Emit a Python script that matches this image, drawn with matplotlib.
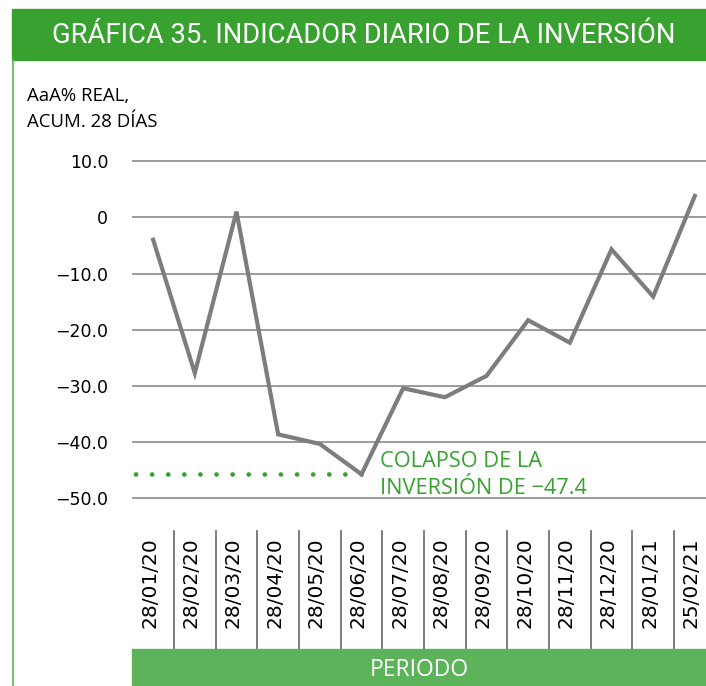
import matplotlib
matplotlib.use("Agg")
import matplotlib.pyplot as plt
import matplotlib.transforms as mtransforms
from matplotlib.patches import Rectangle
from matplotlib.lines import Line2D

# datos
fechas = ["28/01/20", "28/02/20", "28/03/20", "28/04/20", "28/05/20", "28/06/20",
          "28/07/20", "28/08/20", "28/09/20", "28/10/20", "28/11/20", "28/12/20",
          "28/01/21", "25/02/21"]
valores = [-4.0, -27.7, 1.0, -38.6, -40.3, -45.7, -30.4, -32.0, -28.2, -18.3,
           -22.3, -5.7, -14.1, 3.8]
yticks = [10, 0, -10, -20, -30, -40, -50]
ytick_labels = ["10.0", "0", "\u221210.0", "\u221220.0", "\u221230.0", "\u221240.0", "\u221250.0"]

titulo = "GRÁFICA 35. INDICADOR DIARIO DE LA INVERSIÓN"
subtitulo = ["AaA% REAL,", "ACUM. 28 DÍAS"]
nota = ["COLAPSO DE LA", "INVERSIÓN DE \u221247.4"]

VERDE = "#38a12f"
VERDE_CLARO = "#5cb35a"
GRIS = "#7d7d7d"

W, H = 706, 686
fig = plt.figure(figsize=(W / 100, H / 100), dpi=100)


def fx(x):
    return x / W


def fy(y):
    return 1 - y / H


# barra de titulo y borde izquierdo
fig.patches.append(Rectangle((fx(12), fy(59.5)), fx(706 - 12), 50.2 / H,
                             transform=fig.transFigure, color=VERDE, zorder=0))
fig.lines.append(Line2D([fx(12.5), fx(12.5)], [fy(59), fy(686)],
                        transform=fig.transFigure, color=VERDE_CLARO, lw=1.2))
t = fig.text(fx(364), fy(42.7), titulo, color="white", ha="center", va="baseline",
             fontsize=18, family=["Roboto", "DejaVu Sans"])
fig.canvas.draw()
ancho = t.get_window_extent().width
t.set_fontsize(18 * 624 / ancho)

for linea, base in zip(subtitulo, [101, 126.7]):
    fig.text(fx(26.7), fy(base), linea, color="black", ha="left", va="baseline",
             fontsize=13.4, family=["Open Sans", "DejaVu Sans"])

# ejes
x0, x1 = 132.3, 132.3 + 14 * 41.67
ymin, ymax = -52, 12
ppu = 5.624
y_top = 329.76 - ppu * (ymax + 20)
y_bot = 329.76 - ppu * (ymin + 20)
ax = fig.add_axes([fx(x0), fy(y_bot), (x1 - x0) / W, (y_bot - y_top) / H])
ax.set_xlim(-0.5, 13.5)
ax.set_ylim(ymin, ymax)
for s in ax.spines.values():
    s.set_visible(False)
ax.set_facecolor("none")

ax.set_yticks(yticks)
ax.set_yticklabels(ytick_labels, fontsize=12.5, family="DejaVu Sans")
ax.yaxis.grid(True, color="#8a8a8a", lw=1.2)
ax.set_axisbelow(True)

xs = list(range(len(fechas)))
ax.set_xticks(xs)
ax.set_xticklabels(fechas, rotation=90, fontsize=14.5, family="DejaVu Sans")
ax.tick_params(axis="both", length=0)
ax.tick_params(axis="y", pad=17.3)
ax.tick_params(axis="x", pad=20)
offset = mtransforms.ScaledTranslation(-3.5 / 100, 0, fig.dpi_scale_trans)
for lab in ax.get_xticklabels():
    lab.set_transform(lab.get_transform() + offset)

ax.plot(xs, valores, color=GRIS, lw=3.0, solid_joinstyle="miter", zorder=3)

# linea punteada del minimo
i_min = valores.index(min(valores))
ax.plot([i_min, -0.74], [valores[i_min]] * 2, color=VERDE, lw=3.4,
        linestyle=(0, (0.01, 3.4)), dash_capstyle="round", clip_on=False, zorder=2)

for linea, base in zip(nota, [467.3, 494]):
    fig.text(fx(380), fy(base), linea, color=VERDE, ha="left", va="baseline",
             fontsize=15.7, family=["Open Sans", "DejaVu Sans"])

# separadores de categorias
trans = mtransforms.blended_transform_factory(ax.transData, ax.transAxes)
ya = (y_bot - 531) / (y_bot - y_top)
yb = (y_bot - 649) / (y_bot - y_top)
for k in range(len(fechas) - 1):
    ax.plot([k + 0.5, k + 0.5], [ya, yb], transform=trans, color="#666666",
            lw=1.2, clip_on=False)

# barra PERIODO
fig.patches.append(Rectangle((fx(x0), 0), fx(706 - x0), 37 / H,
                             transform=fig.transFigure, color=VERDE_CLARO, zorder=0))
fig.text(fx((x0 + 706) / 2), fy(676.5), "PERIODO", color="white", ha="center",
         va="baseline", fontsize=16.5, family=["Open Sans", "DejaVu Sans"])

fig.savefig("out.png", dpi=100)
